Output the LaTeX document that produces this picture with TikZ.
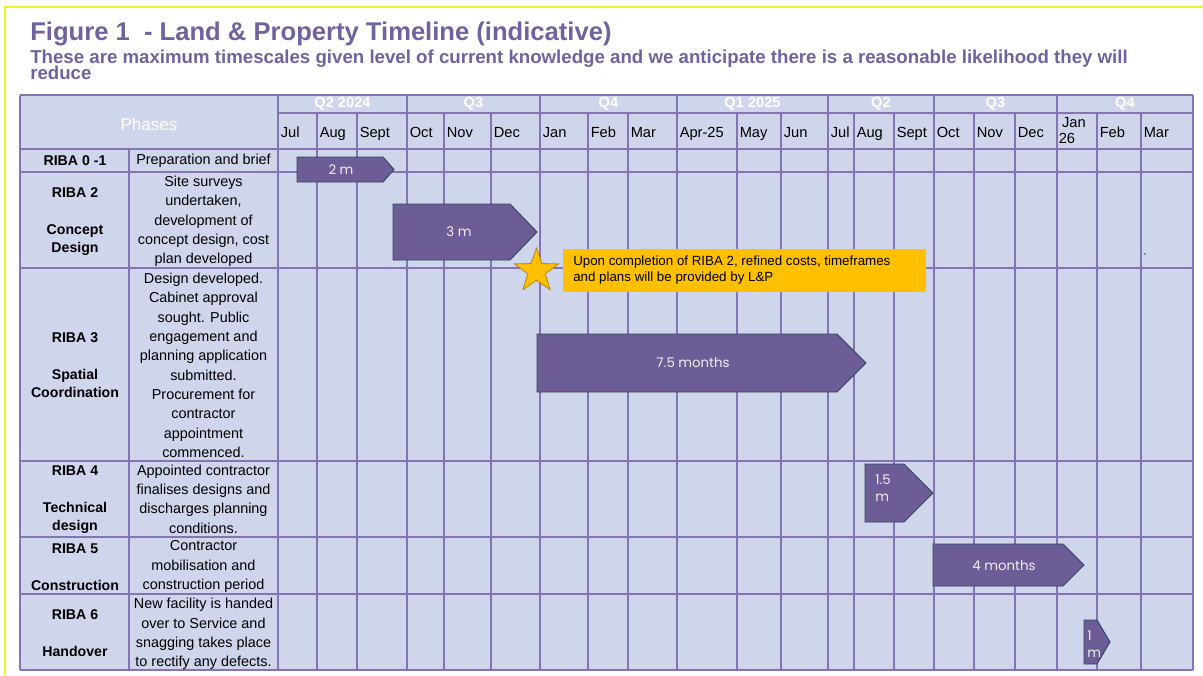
\documentclass[tikz,border=0pt]{standalone}
\usepackage{fontspec}
\setmainfont{Liberation Sans}
\newfontfamily\barfont{Poppins}
\usetikzlibrary{shapes.geometric}

\definecolor{gridline}{RGB}{132,116,180}
\definecolor{cellfill}{RGB}{207,213,234}
\definecolor{titlepurple}{RGB}{113,97,160}
\definecolor{barfill}{RGB}{108,93,150}
\definecolor{baredge}{RGB}{47,72,96}
\definecolor{calloutfill}{RGB}{255,192,0}
\definecolor{staredge}{RGB}{185,135,0}
\definecolor{frameyellow}{RGB}{240,240,40}

\tikzset{
  grid/.style={draw=gridline,line width=1pt},
  bar/.style={fill=barfill,draw=baredge,line width=0.7pt,line join=miter},
  barlabel/.style={text=white!94!black,inner sep=0pt,
    font=\barfont\fontsize{10}{12.75}\selectfont},
  month/.style={anchor=base west,inner sep=0pt,font=\fontsize{11}{12}\selectfont},
  quarter/.style={text=white,inner sep=0pt,font=\bfseries\fontsize{11}{12}\selectfont},
  phase/.style={align=center,inner sep=0pt,font=\bfseries\fontsize{10.6}{13.8}\selectfont},
  task/.style={align=center,inner sep=0pt,font=\fontsize{10.8}{14.5}\selectfont},
}

\begin{document}
\begin{tikzpicture}[x=0.75pt,y=-0.75pt]
  \useasboundingbox (0,0) rectangle (1203,675);
  \draw[frameyellow,line width=0.8pt] (5,675) -- (5,7) -- (1203,7);

  % heading
  \node[anchor=base west,inner sep=0pt,text=titlepurple,
    font=\bfseries\fontsize{19.2}{20}\selectfont] (title) at (30,40)
    {Figure 1\ \ - Land \& Property Timeline (indicative)};
  \node[anchor=base west,inner sep=0pt,align=left,text=titlepurple,
    font={\bfseries\fontsize{14}{12}\selectfont\lineskiplimit=-20pt}] (subtitle) at (30,79)
    {These are maximum timescales given level of current knowledge and we anticipate there is a reasonable likelihood they will\\reduce};

  % table
  \fill[cellfill] (20,95) rectangle (1193,670);
  \foreach \y in {95,149,172,268,461,537,594,670}
    \draw[grid] (20,\y) -- (1193,\y);
  \draw[grid] (278,113) -- (1193,113);
  \draw[grid] (20,95) -- (20,670);
  \draw[grid] (1193,95) -- (1193,670);
  \draw[grid] (129,149) -- (129,670);
  \foreach \x in {278,407,540,677,828,934,1057}
    \draw[grid] (\x,95) -- (\x,670);
  \foreach \x in {317,357,444,491,588,628,737,781,854,894,974,1015,1097,1141}
    \draw[grid] (\x,113) -- (\x,670);

  % header
  \node[text=white,inner sep=0pt,font=\fontsize{12.8}{14}\selectfont] (phases) at (149,124) {Phases};
  \foreach \xa/\xb/\q [count=\i] in {278/407/Q2 2024,407/540/Q3,540/677/Q4,677/828/Q1 2025,
      828/934/Q2,934/1057/Q3,1057/1193/Q4}
    \node[quarter] (q\i) at ({(\xa+\xb)/2},104) {\q};
  \foreach \x/\m [count=\i] in {278/Jul,317/Aug,357/Sept,407/Oct,444/Nov,491/Dec,540/Jan,
      588/Feb,628/Mar,677/Apr-25,737/May,781/Jun,828/Jul,854/Aug,894/Sept,934/Oct,
      974/Nov,1015/Dec,1097/Feb,1141/Mar}
    \node[month] (m\i) at (\x+2.5,137) {\m};
  \node[month,anchor=west,align=left] (jan26) at (1058.5,131) {\hspace{2.5pt}Jan\\26};

  % phases
  \node[phase] (p01) at (75,161) {RIBA 0 -1};
  \node[phase] (p2) at (75,221.5) {RIBA 2\\[13.8pt]Concept\\Design};
  \node[phase] (p3) at (75,365) {RIBA 3\\[13.8pt]Spatial\\Coordination};
  \node[phase] (p4) at (75,499.5) {RIBA 4\\[13.8pt]Technical\\design};
  \node[phase] (p5) at (75,567.5) {RIBA 5\\[13.8pt]Construction};
  \node[phase] (p6) at (75,633.5) {RIBA 6\\[13.8pt]Handover};

  \node[task] (t01) at (203.5,160.5) {Preparation and brief};
  \node[task] (t2) at (203.5,221.5) {Site surveys\\undertaken,\\development of\\concept design, cost\\plan developed};
  \node[task] (t3) at (203.5,365.5) {Design developed.\\Cabinet approval\\sought. Public\\engagement and\\planning application\\submitted.\\Procurement for\\contractor\\appointment\\commenced.};
  \node[task] (t4) at (203.5,499) {Appointed contractor\\finalises designs and\\discharges planning\\conditions.};
  \node[task] (t5) at (203.5,566.5) {Contractor\\mobilisation and\\construction period};
  \node[task] (t6) at (203.5,634) {New facility is handed\\over to Service and\\snagging takes place\\to rectify any defects.};

  % bars
  \draw[bar] (297,157) -- (383,157) -- (394,169.5) -- (383,182) -- (297,182) -- cycle;
  \node[barlabel] (b01) at (341,170) {2 m};
  \draw[bar] (393,204) -- (510,204) -- (537,232) -- (510,260) -- (393,260) -- cycle;
  \node[barlabel] (b2) at (459,232) {3 m};
  \draw[bar] (537,334) -- (837,334) -- (866,363) -- (837,392) -- (537,392) -- cycle;
  \node[barlabel] (b3) at (693,363) {7.5 months};
  \draw[bar] (865,464) -- (904,464) -- (933,493) -- (904,522) -- (865,522) -- cycle;
  \node[barlabel,anchor=west,align=left] (b4) at (875,488.5) {1.5\\m};
  \draw[bar] (933,544) -- (1063,544) -- (1084,565) -- (1063,586) -- (933,586) -- cycle;
  \node[barlabel] (b5) at (1004,566) {4 months};
  \draw[bar] (1084,620) -- (1097,620) -- (1110,642) -- (1097,664) -- (1084,664) -- cycle;
  \node[barlabel,anchor=west,align=left] (b6) at (1087,644.5) {1\\m};

  % milestone
  \fill[calloutfill] (563,249) rectangle (926,292);
  \node[anchor=west,align=left,inner sep=0pt,font=\fontsize{10}{12}\selectfont] (note) at (573,270.5)
    {Upon completion of RIBA 2, refined costs, timeframes\\and plans will be provided by L\&P};
  \node[star,star points=5,star point ratio=2.5,fill=calloutfill,draw=staredge,line width=0.6pt,
    minimum size=34.5pt,inner sep=0pt] (milestone) at (536.5,271) {};
  \node[inner sep=0pt,font=\fontsize{8}{8}\selectfont] (tick) at (1145,258) {\textasciigrave};
\end{tikzpicture}
\end{document}
